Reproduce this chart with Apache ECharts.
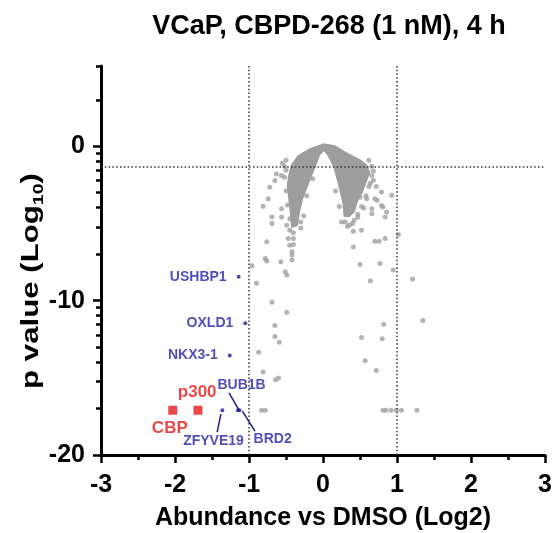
<!DOCTYPE html>
<html>
<head>
<meta charset="utf-8">
<script src="https://cdn.jsdelivr.net/npm/echarts@6/dist/echarts.min.js"></script>
<style>
html, body { margin: 0; padding: 0; background: #fff; }
#chart { width: 552px; height: 533px; }
</style>
</head>
<body>
<div id="chart"></div>
<script>
// axis ticks
var xMajorTicks = [-3, -2, -1, 0, 1, 2, 3];
var yMajorTicks = [-20, -10, 0];
var yMinorTicks = [5.2, 3.0, -0.46, -0.97, -1.55, -2.22, -3.01, -3.98, -5.23, -6.99,
  -10.46, -10.97, -11.55, -12.22, -13.01, -13.98, -15.23, -16.99];

// cut-offs (dotted lines)
var foldCutoffs = [-1, 1];
var pCutoff = -1.3;

// saturated core of the volcano (outline of the overlapping points)
var denseCore = [
  [0.01, 0.19], [0.16, 0.06], [0.32, -0.39], [0.50, -0.84], [0.59, -1.16], [0.64, -1.68],
  [0.59, -2.32], [0.54, -2.97], [0.47, -3.61], [0.43, -4.26], [0.36, -4.58], [0.28, -4.58],
  [0.26, -3.61], [0.20, -2.45], [0.14, -1.35], [0.05, -0.52], [0.01, -0.32], [-0.04, -0.58],
  [-0.09, -1.23], [-0.18, -2.32], [-0.27, -3.42], [-0.31, -4.26], [-0.34, -5.16], [-0.43, -5.29],
  [-0.45, -4.26], [-0.47, -3.42], [-0.49, -2.52], [-0.47, -1.87], [-0.43, -1.16], [-0.34, -0.58],
  [-0.18, -0.13]
];

// other proteins (gray)
var grayPoints = [
  [-0.63, -1.79], [-0.56, -1.89], [-0.65, -2.21], [-0.72, -2.65], [-0.74, -3.40], [-0.81, -3.89],
  [-0.69, -4.58], [-0.69, -5.01], [-0.56, -4.05], [-0.56, -4.58], [-0.49, -5.12], [-0.45, -5.44],
  [-0.76, -6.19], [-0.47, -5.98], [-0.40, -5.98], [-0.45, -6.41], [-0.40, -6.37], [-0.42, -6.84],
  [-0.42, -7.05], [-0.42, -7.37], [-0.78, -7.27], [-0.76, -7.44], [-0.57, -7.48], [-0.51, -8.13],
  [-0.49, -8.34], [-0.96, -7.74], [-0.90, -8.88], [-0.69, -10.11], [-0.49, -10.75], [-0.65, -11.61],
  [-0.65, -12.32], [-0.59, -12.69], [-0.87, -13.34], [-0.81, -14.63], [-0.64, -15.12], [-0.60, -15.01],
  [-0.83, -17.1], [-0.78, -17.1],
  [-0.52, -1.30], [-0.50, -1.55], [-0.36, -3.90], [-0.30, -4.90],
  [-0.50, -0.90], [-0.55, -1.10], [-0.52, -2.00], [-0.50, -2.90], [-0.48, -3.80], [-0.45, -4.70],
  [-0.40, -5.60], [-0.30, -5.30], [-0.26, -4.50], [-0.22, -3.20], [-0.14, -2.10],
  [0.79, -2.97], [0.93, -3.18], [0.70, -3.40], [0.59, -3.40], [0.73, -3.50], [0.66, -4.05],
  [0.66, -4.37], [0.79, -3.83], [0.81, -3.94], [0.86, -4.26], [0.84, -4.58], [0.52, -5.44],
  [0.41, -5.50], [0.70, -6.15], [0.76, -6.15], [0.84, -5.98], [1.02, -5.72], [0.41, -6.52],
  [0.50, -7.66], [0.77, -7.59], [0.95, -8.02], [0.64, -8.73], [1.21, -8.60], [1.35, -11.29],
  [0.82, -11.53], [0.52, -12.39], [0.80, -12.47], [0.57, -13.89], [0.72, -14.52],
  [0.30, -4.90], [0.36, -5.10], [0.42, -4.80], [0.47, -4.40], [0.55, -4.00], [0.50, -3.30],
  [0.62, -2.60], [0.68, -2.20], [0.66, -1.90], [0.72, -2.60],
  [0.62, -0.90], [0.66, -1.30], [0.68, -1.60], [0.64, -2.40], [0.58, -3.20], [0.52, -3.90],
  [0.47, -4.60], [0.40, -5.00], [0.33, -5.20], [0.25, -4.90], [0.22, -3.90], [0.17, -2.90],
  [0.81, -17.1], [0.85, -17.1], [0.92, -17.1], [0.99, -17.1], [1.06, -17.1], [1.27, -17.1]
];

// labelled hits (blue)
var blueNames = ["USHBP1", "OXLD1", "NKX3-1", "ZFYVE19", "BUB1B", "BRD2"];
var blueX = [-1.14, -1.05, -1.26, -1.36, -1.15, -1.13];
var blueY = [-8.45, -11.46, -13.55, -17.1, -17.1, -17.1];

// CBP / p300 (red)
var redNames = ["CBP", "p300"];
var redX = [-2.03, -1.69];
var redY = [-17.1, -17.1];

// free-standing label anchors
var noteNames = ["p300", "CBP", "BUB1B", "ZFYVE19", "BRD2"];
var noteX = [-1.70, -2.07, -1.10, -1.48, -0.68];
var noteY = [-15.92, -18.24, -15.47, -19.10, -18.99];
var noteColors = ["#e41a1c", "#e41a1c", "#2323a8", "#2323a8", "#2323a8"];

// leader lines
var leaders = [
  [[-1.38, -17.35], [-1.43, -18.52]],
  [[-1.27, -15.98], [-1.14, -17.05]],
  [[-1.09, -17.16], [-0.92, -18.45]]
];

var FONT = "Liberation Sans, Arial, sans-serif";
var chart = echarts.init(document.getElementById("chart"));

var blueData = [];
for (var i = 0; i < blueNames.length; i++) {
  blueData.push({
    name: blueNames[i],
    value: [blueX[i], blueY[i]],
    label: { show: i < 3 }
  });
}
var redData = [];
for (var j = 0; j < redNames.length; j++) {
  redData.push({ name: redNames[j], value: [redX[j], redY[j]] });
}
var noteData = [];
for (var k = 0; k < noteNames.length; k++) {
  noteData.push({
    name: noteNames[k],
    value: [noteX[k], noteY[k]],
    label: {
      color: noteColors[k],
      fontSize: noteColors[k] === "#e41a1c" ? 17 : 14
    }
  });
}

var axisLine = { onZero: false, lineStyle: { color: "#000", width: 3 } };

var option = {
  animation: false,
  title: {
    text: "VCaP, CBPD-268 (1 nM), 4 h",
    left: 324,
    top: 8,
    textAlign: "center",
    textStyle: { fontFamily: FONT, fontSize: 27, fontWeight: "bold", color: "#000" }
  },
  graphic: [
    {
      // y axis title, stretched along its length as in the original figure
      type: "text",
      x: 31,
      y: 281,
      rotation: Math.PI / 2,
      scaleX: 1.3,
      style: {
        text: "p value (Log{sub|10})",
        align: "center",
        verticalAlign: "middle",
        fontFamily: FONT,
        fontSize: 24,
        fontWeight: "bold",
        fill: "#000",
        lineHeight: 30,
        rich: {
          sub: { fontFamily: FONT, fontSize: 15, fontWeight: "bold", fill: "#000",
                 verticalAlign: "bottom", lineHeight: 30 }
        }
      }
    }
  ],
  grid: { left: 101, right: 7, top: 66, bottom: 78, outerBoundsMode: "none", containLabel: false },
  xAxis: {
    type: "value",
    min: -3,
    max: 3,
    interval: 1,
    name: "Abundance vs DMSO (Log2)",
    nameLocation: "middle",
    nameGap: 51,
    nameTextStyle: { fontFamily: FONT, fontSize: 25, fontWeight: "bold", color: "#000" },
    axisLine: axisLine,
    splitLine: { show: false },
    axisTick: { show: true, length: 8, lineStyle: { width: 2.5, color: "#000" } },
    minorTick: { show: true, splitNumber: 2, length: 5, lineStyle: { width: 2.5, color: "#000" } },
    axisLabel: { fontFamily: FONT, fontSize: 25, fontWeight: "bold", color: "#000", margin: 18 }
  },
  yAxis: [
    {
      type: "value",
      min: -20,
      max: 5.2,
      position: "left",
      axisLine: axisLine,
      splitLine: { show: false },
      axisTick: { show: true, length: 8, customValues: yMajorTicks, lineStyle: { width: 2.5, color: "#000" } },
      axisLabel: { fontFamily: FONT, fontSize: 25, fontWeight: "bold", color: "#000", margin: 16,
                   customValues: yMajorTicks }
    },
    {
      type: "value",
      min: -20,
      max: 5.2,
      position: "left",
      axisLine: { show: false, onZero: false },
      splitLine: { show: false },
      axisTick: { show: true, length: 5, customValues: yMinorTicks, lineStyle: { width: 2.5, color: "#000" } },
      axisLabel: { show: false }
    }
  ],
  series: [
    {
      type: "custom",
      name: "core",
      z: 2,
      silent: true,
      data: [[0, 0]],
      renderItem: function (params, api) {
        var pts = denseCore.map(function (p) { return api.coord(p); });
        return { type: "polygon", shape: { points: pts }, style: { fill: "#9d9d9d" } };
      }
    },
    {
      type: "scatter",
      name: "proteins",
      z: 2,
      symbolSize: 5,
      itemStyle: { color: "#a0a0a0" },
      data: grayPoints,
      markLine: {
        silent: true,
        symbol: "none",
        label: { show: false },
        lineStyle: { color: "#333", width: 1.5, type: [1.5, 2.3] },
        data: [
          { xAxis: foldCutoffs[0] },
          { xAxis: foldCutoffs[1] },
          { yAxis: pCutoff }
        ]
      }
    },
    {
      type: "lines",
      coordinateSystem: "cartesian2d",
      z: 3,
      lineStyle: { color: "#1e1e8c", width: 1.5, opacity: 1 },
      data: leaders.map(function (c) { return { coords: c }; })
    },
    {
      type: "scatter",
      name: "hits",
      z: 4,
      symbolSize: 4,
      itemStyle: { color: "#1e1e8c" },
      label: {
        position: "left",
        distance: 10,
        formatter: "{b}",
        fontFamily: FONT,
        fontSize: 14,
        fontWeight: "bold",
        color: "#2323a8"
      },
      data: blueData
    },
    {
      type: "scatter",
      name: "CBP/p300",
      z: 4,
      symbol: "rect",
      symbolSize: 9,
      itemStyle: { color: "#e41a1c" },
      data: redData
    },
    {
      type: "scatter",
      name: "notes",
      z: 5,
      symbolSize: 0,
      label: {
        show: true,
        position: "inside",
        formatter: "{b}",
        fontFamily: FONT,
        fontWeight: "bold"
      },
      data: noteData
    }
  ]
};
chart.setOption(option);
</script>
</body>
</html>
